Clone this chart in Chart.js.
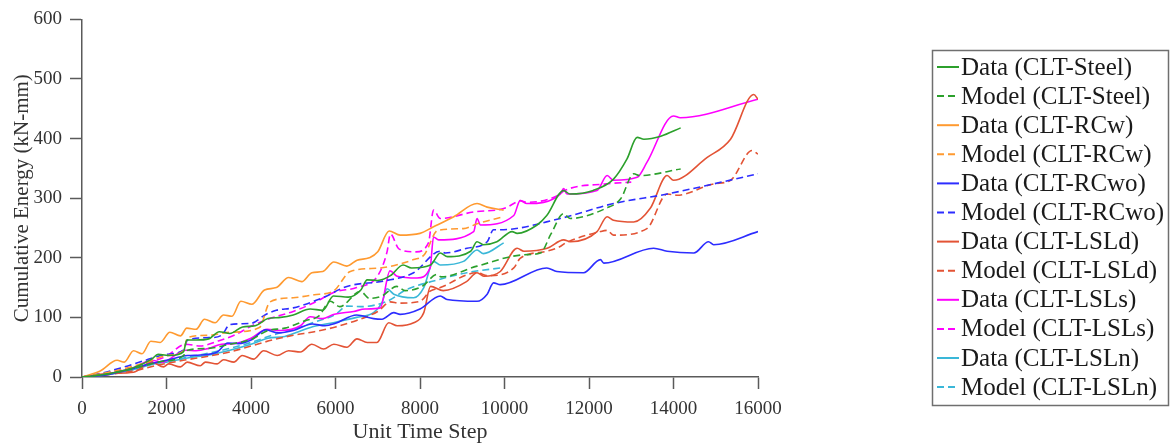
<!DOCTYPE html>
<html>
<head>
<meta charset="utf-8">
<script src="https://cdn.jsdelivr.net/npm/chart.js@4.4.1/dist/chart.umd.min.js"></script>
<style>
  html, body { margin: 0; padding: 0; background: #fff; }
  #wrap { width: 1172px; height: 443px; }
</style>
</head>
<body>
<div id="wrap"><canvas id="chart" width="1172" height="443"></canvas></div>
<script>
// x ticks / y ticks
const xTicks = [0, 2000, 4000, 6000, 8000, 10000, 12000, 14000, 16000];
const yTicks = [0, 100, 200, 300, 400, 500, 600];

const seriesLabels = [
  'Data (CLT-Steel)', 'Model (CLT-Steel)',
  'Data (CLT-RCw)', 'Model (CLT-RCw)',
  'Data (CLT-RCwo)', 'Model (CLT-RCwo)',
  'Data (CLT-LSLd)', 'Model (CLT-LSLd)',
  'Data (CLT-LSLs)', 'Model (CLT-LSLs)',
  'Data (CLT-LSLn)', 'Model (CLT-LSLn)'
];

// [unit time step, cumulative energy]
const dataSteel = [[0,0],[400,3],[800,8],[1200,15],[1650,30],[1800,38],[2100,36],[2400,42],[2480,62],[2700,62],[3000,64],[3250,76],[3500,73],[3800,84],[4100,86],[4400,98],[4700,100],[5000,104],[5400,114],[5700,112],[5950,136],[6300,134],[6600,146],[6750,163],[7000,162],[7300,170],[7600,188],[7800,183],[8250,188],[8480,208],[8650,202],[9200,211],[9350,227],[9500,222],[9820,227],[10180,244],[10300,241],[10770,255],[11000,271],[11400,313],[11550,307],[12100,313],[12580,332],[12900,366],[13140,402],[13300,399],[13700,404],[14170,418]];
const modelSteel = [[0,0],[600,5],[1200,14],[1800,25],[2400,36],[2500,45],[3000,48],[3500,55],[4000,63],[4400,78],[4800,82],[5300,95],[5600,102],[5880,127],[6100,118],[6590,144],[6800,132],[7100,136],[7450,152],[7650,145],[8050,152],[8400,172],[8500,168],[9350,186],[10450,205],[10850,208],[11100,240],[11400,274],[11550,266],[12400,283],[12750,299],[13060,341],[13200,338],[14170,349]];
const dataRCw = [[0,0],[430,10],[830,28],[1000,25],[1220,44],[1420,39],[1630,60],[1850,58],[2080,75],[2330,69],[2480,82],[2700,80],[2900,97],[3150,91],[3350,104],[3550,102],[3760,127],[4020,122],[4320,146],[4600,150],[4890,167],[5200,160],[5440,175],[5700,177],[5960,193],[6270,186],[6510,196],[6800,200],[7000,210],[7270,245],[7530,238],[8000,241],[8320,252],[8800,269],[9350,291],[9590,285],[9980,280]];
const modelRCw = [[0,0],[500,6],[1000,14],[1500,24],[2000,36],[2400,44],[2500,66],[3000,70],[3500,75],[4200,83],[4450,126],[5000,133],[5500,138],[5950,144],[6350,177],[7060,183],[7850,197],[8100,205],[8420,246],[9030,249],[9350,257],[9980,269]];
const dataRCwo = [[0,0],[600,4],[1200,14],[1600,22],[2000,28],[2500,36],[2800,37],[3200,42],[3450,57],[3700,56],[4000,62],[4350,79],[4650,74],[5000,78],[5450,89],[5750,86],[6000,90],[6500,104],[6900,98],[7100,97],[7380,108],[7530,105],[8000,114],[8480,136],[8640,130],[9350,127],[9590,139],[9740,158],[9900,155],[11000,183],[11240,177],[11870,175],[12270,197],[12350,191],[13530,216],[13850,211],[14480,208],[14830,227],[14950,222],[16000,244]];
const modelRCwo = [[0,0],[500,7],[1000,17],[1500,28],[2000,38],[2400,45],[2500,62],[3000,66],[3300,70],[3500,88],[4000,90],[4350,105],[4600,112],[5000,116],[5700,133],[6270,152],[7140,161],[7850,175],[8480,211],[8600,208],[9110,216],[9590,227],[9740,247],[9900,247],[11320,266],[12580,291],[13850,307],[14950,324],[16000,341]];
const dataLSLd = [[0,0],[670,6],[1220,8],[1650,25],[1930,17],[2050,22],[2330,17],[2490,25],[2800,19],[2920,25],[3200,22],[3350,29],[3600,25],[3790,36],[4060,30],[4300,44],[4620,36],[4890,44],[5170,42],[5440,55],[5720,47],[5960,55],[6270,50],[6510,64],[6750,58],[6980,58],[7260,91],[7460,86],[7850,91],[8090,108],[8250,152],[8550,145],[9100,160],[9350,175],[9510,169],[9900,177],[10300,216],[10460,211],[11010,216],[11400,230],[11560,227],[12190,244],[12430,269],[12580,263],[13060,260],[13450,283],[13850,338],[14000,330],[14790,368],[15350,399],[15900,474],[16000,466]];
const modelLSLd = [[0,0],[600,4],[1200,10],[1800,20],[2400,28],[3000,35],[3500,42],[4000,52],[4500,62],[5000,70],[5500,76],[6000,84],[6500,95],[7000,110],[7300,126],[7500,124],[8000,127],[8240,144],[8480,150],[9350,175],[9600,170],[10220,183],[10370,199],[11000,211],[11320,219],[11450,225],[12270,244],[12430,246],[12580,238],[13370,249],[13850,307],[14080,305],[14950,324],[15350,330],[15860,380],[16000,374]];
const dataLSLs = [[0,0],[600,5],[1200,15],[1650,28],[1900,25],[2450,45],[2700,44],[3000,48],[3300,55],[3600,56],[4000,65],[4380,80],[4700,78],[5170,86],[5400,101],[5700,98],[5950,105],[6430,110],[6700,114],[7060,116],[7290,178],[7460,169],[7930,166],[8240,183],[8320,235],[8440,230],[9270,244],[9350,266],[9430,255],[10220,271],[10370,296],[10530,291],[11320,307],[11400,316],[11480,307],[12190,313],[12430,338],[12580,330],[13140,335],[13370,360],[14000,438],[14160,435],[16000,466]];
const modelLSLs = [[0,0],[500,5],[1000,13],[1600,25],[2000,35],[2450,55],[2800,52],[3200,60],[3600,70],[4000,85],[4400,97],[5000,110],[5500,125],[6000,143],[6500,150],[7000,170],[7220,210],[7300,240],[7500,215],[7900,210],[8200,225],[8320,280],[8480,266],[9270,277],[10000,283],[10220,291],[10370,296],[10530,293],[11320,307],[11400,312],[12400,324],[13000,327]];
const dataLSLn = [[0,0],[600,4],[1200,12],[1700,22],[2000,25],[2500,32],[3000,37],[3500,45],[4000,55],[4400,65],[4800,68],[5200,78],[5500,85],[6000,92],[6500,100],[6900,108],[7100,125],[7220,148],[7380,139],[7850,133],[8090,150],[8320,194],[8480,188],[9030,194],[9350,213],[9500,207],[9980,225]];
const modelLSLn = [[0,0],[600,5],[1200,13],[1800,24],[2400,32],[3000,40],[3500,48],[4000,58],[4500,70],[5000,80],[5500,92],[6000,105],[6270,119],[6600,118],[7220,127],[7690,147],[8320,161],[9110,175],[9900,183]];

const series = [dataSteel, modelSteel, dataRCw, modelRCw, dataRCwo, modelRCwo,
                dataLSLd, modelLSLd, dataLSLs, modelLSLs, dataLSLn, modelLSLn];
const colors = ['#2ca02c', '#ff9a30', '#2d2dff', '#e35335', '#ff00ff', '#3ab7d8'];
const dash = [7, 4];

const datasets = series.map((pts, i) => ({
  label: seriesLabels[i],
  data: pts.map(p => ({ x: p[0], y: p[1] })),
  borderColor: colors[Math.floor(i / 2)],
  backgroundColor: colors[Math.floor(i / 2)],
  borderWidth: 1.6,
  borderDash: i % 2 === 1 ? dash : [],
  pointRadius: 0,
  fill: false,
  cubicInterpolationMode: 'monotone'
}));

// legend in a box at the right, drawn by hand
const boxLegend = {
  id: 'boxLegend',
  afterDraw(chart) {
    const ctx = chart.ctx;
    ctx.save();
    ctx.strokeStyle = '#6f6f6f';
    ctx.lineWidth = 1.5;
    ctx.strokeRect(932.5, 50.5, 236, 355);
    ctx.font = '25px "Liberation Serif"';
    ctx.textBaseline = 'middle';
    chart.data.datasets.forEach((ds, i) => {
      const y = 67 + i * 29.1;
      ctx.strokeStyle = ds.borderColor;
      ctx.lineWidth = 2;
      ctx.setLineDash(ds.borderDash);
      ctx.beginPath();
      ctx.moveTo(937, y);
      ctx.lineTo(959, y);
      ctx.stroke();
      ctx.setLineDash([]);
      ctx.fillStyle = '#1a1a1a';
      ctx.fillText(ds.label, 961, y + 1);
    });
    ctx.restore();
  }
};

const serif = 'Liberation Serif';
const axisGrey = '#5a5a5a';

new Chart(document.getElementById('chart'), {
  type: 'line',
  data: { datasets },
  options: {
    responsive: false,
    animation: false,
    layout: { padding: { top: 16, right: 414, left: 0, bottom: 0 } },
    plugins: { legend: { display: false }, tooltip: { enabled: false } },
    scales: {
      x: {
        type: 'linear',
        min: xTicks[0],
        max: xTicks[xTicks.length - 1],
        afterBuildTicks: s => { s.ticks = xTicks.map(v => ({ value: v })); },
        afterFit: s => { s.height = 66; },
        grid: { drawOnChartArea: false, tickLength: 12, tickColor: axisGrey, tickWidth: 1.5 },
        border: { color: axisGrey, width: 1.5 },
        ticks: { color: '#333', padding: 9, maxRotation: 0, callback: v => String(v),
                 font: { family: serif, size: 19 } },
        title: { display: true, text: 'Unit Time Step', color: '#333',
                 font: { family: serif, size: 22, lineHeight: 1 }, padding: { top: 0, bottom: 0 } }
      },
      y: {
        min: yTicks[0],
        max: yTicks[yTicks.length - 1],
        afterBuildTicks: s => { s.ticks = yTicks.map(v => ({ value: v })); },
        afterFit: s => { s.width = 82; },
        grid: { drawOnChartArea: false, tickLength: 12, tickColor: axisGrey, tickWidth: 1.5 },
        border: { color: axisGrey, width: 1.5 },
        ticks: { color: '#333', padding: 8, callback: v => String(v), font: { family: serif, size: 19 } },
        title: { display: true, text: 'Cumulative Energy (kN-mm)', color: '#333',
                 font: { family: serif, size: 21, lineHeight: 1 }, padding: { top: 12, bottom: 0 } }
      }
    }
  },
  plugins: [boxLegend]
});
</script>
</body>
</html>
